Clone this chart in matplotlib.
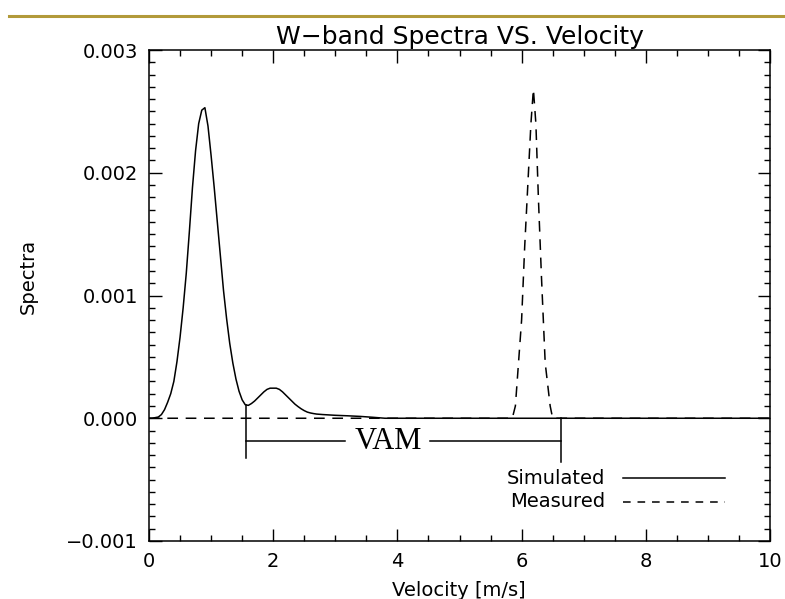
import matplotlib
matplotlib.use("Agg")
import matplotlib.pyplot as plt
from matplotlib.lines import Line2D
from matplotlib import font_manager
import numpy as np

# ---- data ----
sim_v = [0.0, 0.05, 0.1, 0.15, 0.2, 0.25, 0.3, 0.35, 0.4, 0.45, 0.5, 0.55, 0.6, 0.65,
         0.7, 0.75, 0.8, 0.85, 0.9, 0.95, 1.0, 1.05, 1.1, 1.15, 1.2, 1.25, 1.3, 1.35,
         1.4, 1.45, 1.5, 1.55, 1.6, 1.65, 1.7, 1.75, 1.8, 1.85, 1.9, 1.95, 2.0, 2.05,
         2.1, 2.15, 2.2, 2.25, 2.3, 2.35, 2.4, 2.45, 2.5, 2.55, 2.6, 2.65, 2.7, 2.8,
         2.9, 3.0, 3.2, 3.4, 3.6, 3.8, 10.0]
sim_s = [0.0, 0.0, 0.005, 0.01, 0.03, 0.07, 0.13, 0.20, 0.30, 0.46, 0.66, 0.90, 1.18, 1.52,
         1.88, 2.18, 2.40, 2.51, 2.53, 2.38, 2.14, 1.88, 1.60, 1.32, 1.04, 0.81, 0.61, 0.45,
         0.32, 0.22, 0.15, 0.11, 0.105, 0.12, 0.14, 0.165, 0.19, 0.215, 0.235, 0.245, 0.245, 0.245,
         0.235, 0.215, 0.19, 0.165, 0.14, 0.115, 0.095, 0.077, 0.062, 0.05, 0.043, 0.038, 0.034, 0.03,
         0.027, 0.024, 0.02, 0.015, 0.008, 0.0, 0.0]
sim_s = [s * 1e-3 for s in sim_s]

meas_v = [0.0, 5.85, 5.9, 6.0, 6.05, 6.1, 6.15, 6.19, 6.23, 6.27, 6.32, 6.38, 6.46, 6.5, 10.0]
meas_s = [0.0, 0.0, 0.10, 0.80, 1.40, 1.90, 2.40, 2.68, 2.40, 1.80, 1.15, 0.45, 0.10, 0.0, 0.0]
meas_s = [s * 1e-3 for s in meas_s]

vam_start, vam_end = 1.56, 6.64
vam_label = "VAM"
title = "W\u2212band Spectra VS. Velocity"
xlabel = "Velocity [m/s]"
ylabel = "Spectra"
xticks = [0, 2, 4, 6, 8, 10]
yticks = [-0.001, 0.0, 0.001, 0.002, 0.003]
ytick_labels = ["\u22120.001", "0.000", "0.001", "0.002", "0.003"]
legend_labels = ["Simulated", "Measured"]

# ---- fonts ----
avail = {f.name for f in font_manager.fontManager.ttflist}
sans = "DejaVu Sans Condensed" if "DejaVu Sans Condensed" in avail else "DejaVu Sans"
plt.rcParams['font.family'] = [sans, 'DejaVu Sans']

fig = plt.figure(figsize=(7.85, 5.99), dpi=100)
ax = fig.add_axes([149/785, 1 - 541/599, (770-149)/785, (541-50)/599])

ax.plot(sim_v, sim_s, color="black", lw=1.1)
ax.plot(meas_v, meas_s, color="black", lw=1.1, dashes=(7, 5))

ax.set_xlim(0, 10)
ax.set_ylim(-0.001, 0.003)
ax.set_xticks(xticks)
ax.set_xticklabels([str(t) for t in xticks])
ax.set_yticks(yticks)
ax.set_yticklabels(ytick_labels)
ax.set_xticks(np.arange(0, 10.01, 0.5), minor=True)
ax.set_yticks(np.arange(-0.001, 0.00301, 0.0001), minor=True)
ax.tick_params(which="both", direction="in", top=True, right=True, width=1, color="black")
ax.tick_params(which="major", length=9, labelsize=14, pad=8)
ax.tick_params(which="minor", length=4.5)
for sp in ax.spines.values():
    sp.set_linewidth(1.1)

# VAM bracket
lo = -0.000187
ax.plot([vam_start, vam_start], [sim_s[sim_v.index(1.55)], -0.000326], color="black", lw=1.1)
ax.plot([vam_end, vam_end], [0.0, -0.000359], color="black", lw=1.1)
vam_mid = 3.85
ax.plot([vam_start, 3.16], [lo, lo], color="black", lw=1.1)
ax.plot([4.52, vam_end], [lo, lo], color="black", lw=1.1)
ax.text(vam_mid, lo, vam_label, family=["Liberation Serif", "DejaVu Serif"], fontsize=22,
        ha="center", va="center")

# Legend (manual, IDL style)
ax.text(7.34, -0.00049, legend_labels[0], ha="right", va="center", fontsize=14)
ax.text(7.34, -0.00068, legend_labels[1], ha="right", va="center", fontsize=14)
ax.add_line(Line2D([7.63, 9.28], [-0.00049, -0.00049], color="black", lw=1.1))
ax.add_line(Line2D([7.63, 9.28], [-0.00068, -0.00068], color="black", lw=1.1, dashes=(5, 4.5)))

ax.set_title(title, fontsize=18, pad=4)
fig.text(459/785, 1 - 590/599, xlabel, ha="center", va="center", fontsize=14)
fig.text(28/785, 1 - 276/599, ylabel, ha="center", va="center", rotation=90, fontsize=14)

# slide header rule
fig.add_artist(Line2D([9/785, 1.0], [1 - 16/599, 1 - 16/599], color="#B29A3A", lw=2.2))

fig.savefig("out.png", dpi=100)
